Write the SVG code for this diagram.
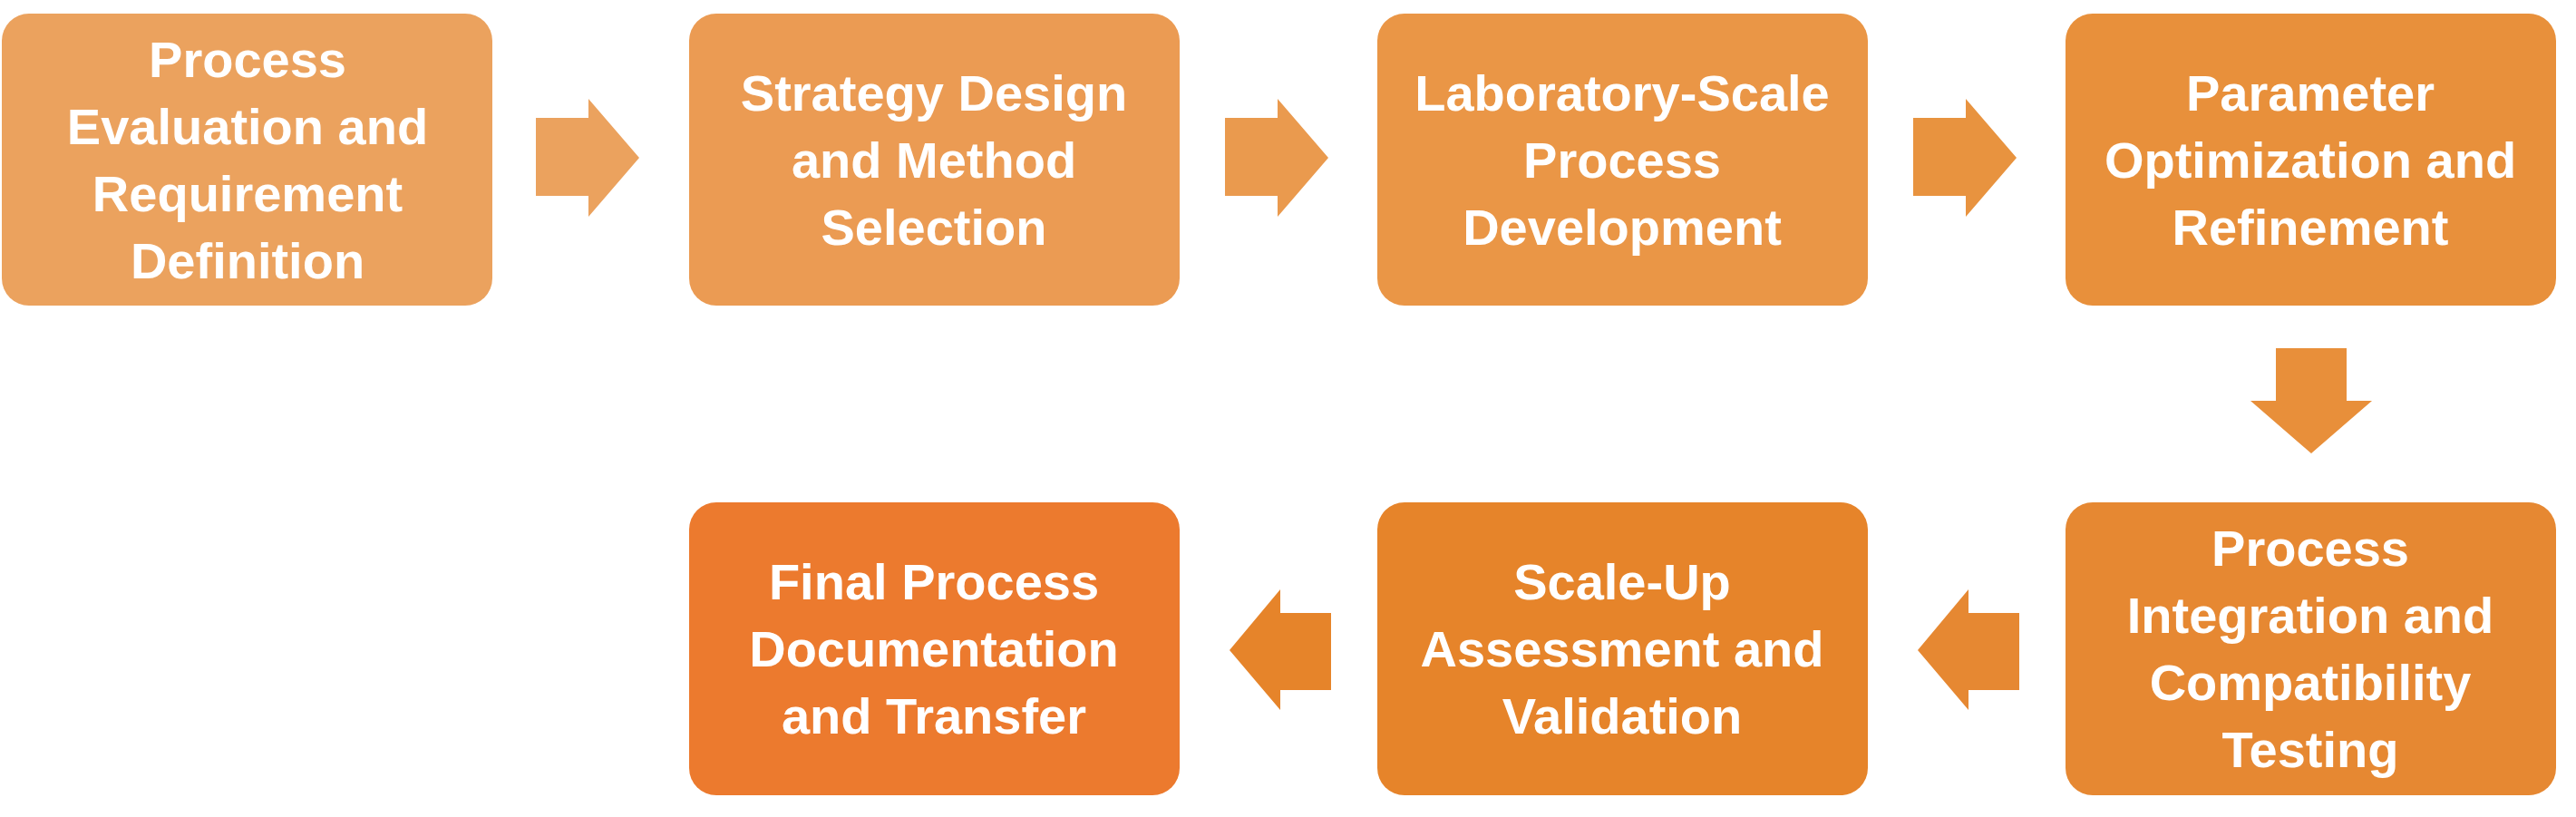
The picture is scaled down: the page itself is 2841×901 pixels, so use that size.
<svg xmlns="http://www.w3.org/2000/svg" width="2841" height="901" viewBox="0 0 2841 901">
<style>
text{font-family:"Liberation Sans",Arial,sans-serif;font-weight:bold;font-size:56px;fill:#fff;text-anchor:middle}
</style>
<rect width="2841" height="901" fill="#fff"/>
<g id="connectors">
<polygon points="591,130 649,130 649,109 705,174 649,239 649,216 591,216" fill="#EBA25E"/>
<polygon points="1351,130 1409,130 1409,109 1465,174 1409,239 1409,216 1351,216" fill="#EA9A4E"/>
<polygon points="2110,130 2168,130 2168,109 2224,174 2168,239 2168,216 2110,216" fill="#E8933F"/>
<polygon points="2510,384 2588,384 2588,442 2616,442 2549,500 2482,442 2510,442" fill="#E88F3A"/>
<polygon points="2227,676 2171,676 2171,650 2115,717 2171,783 2171,761 2227,761" fill="#E68832"/>
<polygon points="1468,676 1412,676 1412,650 1356,717 1412,783 1412,761 1468,761" fill="#E6842A"/>
</g>
<g id="n1"><rect x="2" y="15" width="541" height="322" rx="30" fill="#EBA25E"/>
<text x="273" y="85">Process</text><text x="273" y="159">Evaluation and</text><text x="273" y="233">Requirement</text><text x="273" y="307">Definition</text></g>
<g id="n2"><rect x="760" y="15" width="541" height="322" rx="30" fill="#EB9B53"/>
<text x="1030" y="122">Strategy Design</text><text x="1030" y="196">and Method</text><text x="1030" y="270">Selection</text></g>
<g id="n3"><rect x="1519" y="15" width="541" height="322" rx="30" fill="#EA9646"/>
<text x="1789" y="122">Laboratory-Scale</text><text x="1789" y="196">Process</text><text x="1789" y="270">Development</text></g>
<g id="n4"><rect x="2278" y="15" width="541" height="322" rx="30" fill="#E8903B"/>
<text x="2548" y="122">Parameter</text><text x="2548" y="196">Optimization and</text><text x="2548" y="270">Refinement</text></g>
<g id="n5"><rect x="2278" y="554" width="541" height="323" rx="30" fill="#E68832"/>
<text x="2548" y="624">Process</text><text x="2548" y="698">Integration and</text><text x="2548" y="772">Compatibility</text><text x="2548" y="846">Testing</text></g>
<g id="n6"><rect x="1519" y="554" width="541" height="323" rx="30" fill="#E6842A"/>
<text x="1789" y="661">Scale-Up</text><text x="1789" y="735">Assessment and</text><text x="1789" y="809">Validation</text></g>
<g id="n7"><rect x="760" y="554" width="541" height="323" rx="30" fill="#EC7A2E"/>
<text x="1030" y="661">Final Process</text><text x="1030" y="735">Documentation</text><text x="1030" y="809">and Transfer</text></g>
</svg>
